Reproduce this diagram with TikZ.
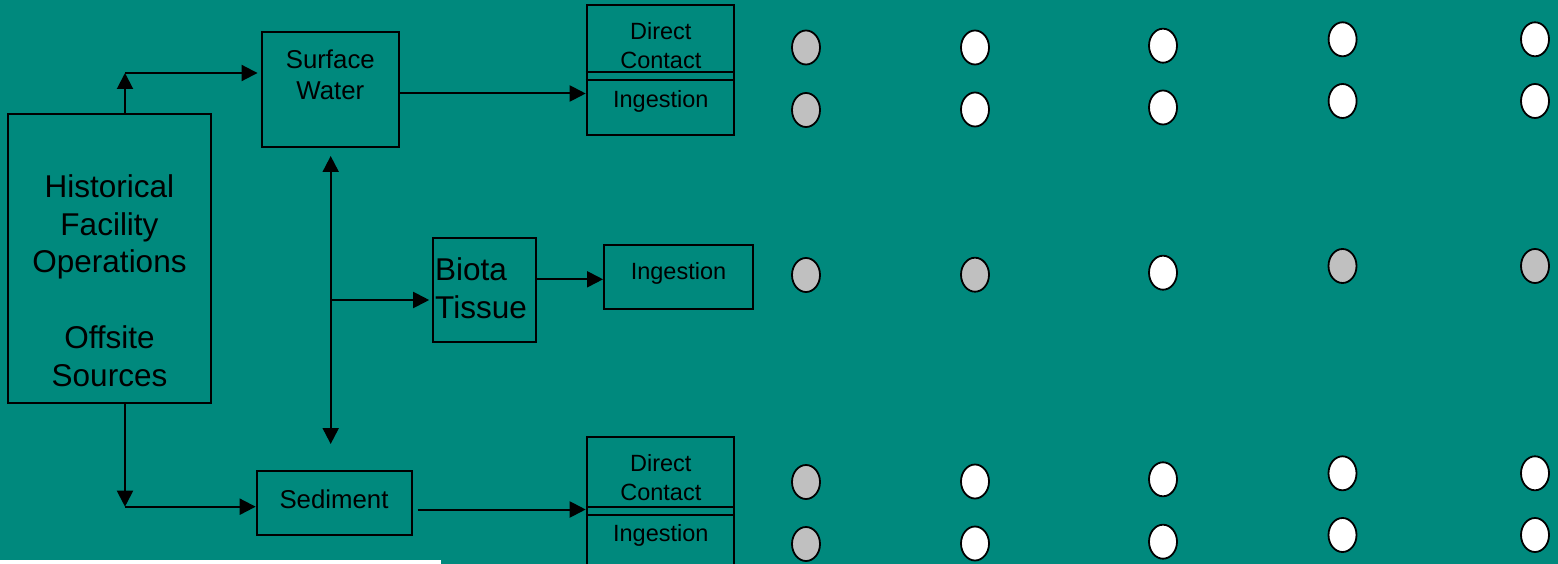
\documentclass[tikz,border=0pt]{standalone}
\usepackage{fontspec}
\setmainfont{Liberation Sans}
\usetikzlibrary{arrows.meta,shapes.geometric}
\definecolor{bg}{RGB}{0,137,125}
\definecolor{dotgray}{RGB}{192,192,192}
\begin{document}
\begin{tikzpicture}[x=1pt,y=-1pt,
  box/.style={draw=black, line width=2pt, rectangle, inner sep=0pt},
  arr/.style={draw=black, line width=2pt, -{Triangle[length=16pt,width=16pt]}},
  arrtwo/.style={draw=black, line width=2pt, {Triangle[length=16pt,width=16pt]}-{Triangle[length=16pt,width=16pt]}},
  txt/.style={inner sep=0pt, anchor=base, text=black},
  big/.style={font=\fontsize{31.5}{37.7}\selectfont},
  mid/.style={font=\fontsize{25.8}{31.2}\selectfont},
  small/.style={font=\fontsize{23.5}{29}\selectfont},
  dot/.style={ellipse, draw=black, line width=1.8pt, inner sep=0pt, minimum width=28pt, minimum height=34pt},
  dw/.style={dot, fill=white},
  dg/.style={dot, fill=dotgray}]
\useasboundingbox (0,0) rectangle (1558,564);
\clip (0,0) rectangle (1558,564);
\fill[bg] (0,0) rectangle (1558,564);
\fill[white] (0,560) rectangle (441,564);

% boxes
\node[box, minimum width=202.7pt, minimum height=289pt] (h) at (109.7,258.8) {};
\node[box, minimum width=137.3pt, minimum height=115.3pt] (sw) at (330.7,89.3) {};
\node[box, minimum width=155.6pt, minimum height=64.3pt] (sed) at (334.5,503.2) {};
\node[box, minimum width=103.6pt, minimum height=104pt] (bt) at (484.5,289.7) {};
\node[box, minimum width=149.3pt, minimum height=63.7pt] (bi) at (678.7,276.9) {};
\node[box, minimum width=147.6pt, minimum height=129.7pt] (dct) at (660.5,69.85) {};
\node[box, minimum width=147.6pt, minimum height=143.3pt] (dcb) at (660.5,508.35) {};
\draw[line width=2pt] (dct.west |- 0,72.3) -- (dct.east |- 0,72.3);
\draw[line width=2pt] (dct.west |- 0,80.5) -- (dct.east |- 0,80.5);
\draw[line width=2pt] (dcb.west |- 0,506.7) -- (dcb.east |- 0,506.7);
\draw[line width=2pt] (dcb.west |- 0,515.2) -- (dcb.east |- 0,515.2);

% texts (base anchor = baseline of the last line)
\node[txt, big, align=center] (htxt) at (109.5,386) {Historical\\Facility\\Operations\\[37.7pt]Offsite\\Sources};
\node[txt, mid, align=center] (swtxt) at (330.3,99.5) {Surface\\Water};
\node[txt, mid] (sedtxt) at (334,508) {Sediment};
\node[txt, big, align=left, anchor=base west] (bttxt) at (435,318) {Biota\\Tissue};
\node[txt, small] (bitxt) at (678.5,279.4) {Ingestion};
\node[txt, small, align=center] (dcttxt) at (660.8,68.4) {Direct\\Contact};
\node[txt, small] (dctitxt) at (660.8,107.5) {Ingestion};
\node[txt, small, align=center] (dcbtxt) at (660.8,500.4) {Direct\\Contact};
\node[txt, small] (dcbitxt) at (660.8,541.5) {Ingestion};

% connectors
\coordinate (hup) at (125,73);
\draw[arr] (h.north -| hup) -- (hup);
\draw[arr, shorten >=3.5pt] (hup) -- (sw.west |- hup);
\coordinate (hdn) at (125,506.7);
\draw[arr] (h.south -| hdn) -- (hdn);
\draw[arr] (hdn) -- (sed.west |- hdn);
\draw[arr] (sw.east |- 0,93.5) -- (dct.west |- 0,93.5);
\coordinate (vt) at (330.7,156);
\coordinate (vb) at (330.7,444);
\draw[arrtwo] (vt) -- (vb);
\coordinate (vm) at (330.7,300);
\draw[arr, shorten >=2.5pt] (vm) -- (bt.west |- vm);
\draw[arr] (bt.east |- 0,279.3) -- (bi.west |- 0,279.3);
\draw[arr, shorten <=4.4pt] (sed.east |- 0,509.5) -- (dcb.west |- 0,509.5);

% dots
\node[dg] (a11) at (806,47.5) {};
\node[dg] (a12) at (806,110) {};
\node[dw] (a21) at (975,47.5) {};
\node[dw] (a22) at (975,109.5) {};
\node[dw] (a31) at (1163,45.7) {};
\node[dw] (a32) at (1163,107.5) {};
\node[dw] (a41) at (1342.6,39.3) {};
\node[dw] (a42) at (1342.6,101) {};
\node[dw] (a51) at (1535,39.3) {};
\node[dw] (a52) at (1535,101) {};

\node[dg] (b1) at (806,275) {};
\node[dg] (b2) at (975,274.7) {};
\node[dw] (b3) at (1163,272.7) {};
\node[dg] (b4) at (1342.5,266) {};
\node[dg] (b5) at (1535,266) {};

\node[dg] (c11) at (806,482) {};
\node[dg] (c12) at (806,544) {};
\node[dw] (c21) at (975,481.5) {};
\node[dw] (c22) at (975,543.5) {};
\node[dw] (c31) at (1163,479.3) {};
\node[dw] (c32) at (1163,541.7) {};
\node[dw] (c41) at (1342.5,473.3) {};
\node[dw] (c42) at (1342.5,535) {};
\node[dw] (c51) at (1535,473.3) {};
\node[dw] (c52) at (1535,535) {};
\end{tikzpicture}
\end{document}
